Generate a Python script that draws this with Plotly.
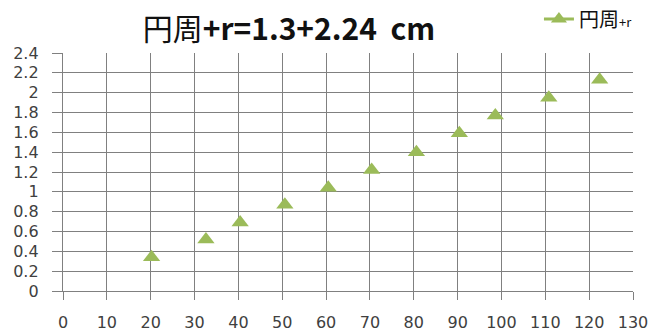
import plotly.graph_objects as go

# Measured points: horizontal value vs. circumference+r (cm)
x_vals = [20.2, 32.6, 40.4, 50.6, 60.5, 70.4, 80.6, 90.4, 98.6, 110.8, 122.4]
y_vals = [0.34, 0.52, 0.69, 0.87, 1.04, 1.22, 1.40, 1.59, 1.77, 1.95, 2.13]

x_ticks = list(range(0, 131, 10))
y_ticks = [0, 0.2, 0.4, 0.6, 0.8, 1, 1.2, 1.4, 1.6, 1.8, 2, 2.2, 2.4]
y_tick_text = ["0", "0.2", "0.4", "0.6", "0.8", "1", "1.2", "1.4", "1.6", "1.8", "2", "2.2", "2.4"]

series_name = "円周<span style='font-size:13px'>+r</span>"
title_text = "円周<b>+r=1.3+2.24&nbsp;&nbsp;cm</b>"

GREEN = "#9BBB59"
GRID = "#808080"
LABEL = "#404040"
TICK_FONT = "DejaVu Sans"

fig = go.Figure()

# data markers
fig.add_trace(go.Scatter(
    x=x_vals, y=y_vals, mode="markers",
    marker=dict(symbol="triangle-up", size=15, color=GREEN),
    showlegend=False, hoverinfo="x+y",
))
# legend entry (line + marker sample)
fig.add_trace(go.Scatter(
    x=[None], y=[None], mode="lines+markers", name=series_name,
    line=dict(color=GREEN, width=3),
    marker=dict(symbol="triangle-up", size=14, color=GREEN),
))

fig.update_layout(
    width=648, height=336,
    margin=dict(l=63, r=15, t=53, b=45, autoexpand=False),
    paper_bgcolor="white", plot_bgcolor="white",
    font=dict(family=TICK_FONT, color=LABEL),
    title=dict(
        text=title_text, xref="container", yref="container",
        x=0.446, y=0.912, xanchor="center", yanchor="middle",
        font=dict(family="Noto Sans CJK JP", size=30, color="#111111"),
    ),
    legend=dict(
        x=0.835, y=1.225, xanchor="left", yanchor="top",
        font=dict(family="Noto Sans CJK JP", size=20, color="#111111"),
        bgcolor="rgba(0,0,0,0)", itemwidth=30,
    ),
    xaxis=dict(
        range=[0, 130], tickvals=x_ticks, ticktext=[str(v) for v in x_ticks],
        showgrid=True, gridcolor=GRID, gridwidth=1.4,
        showline=True, linecolor=GRID, linewidth=1.4,
        ticks="outside", ticklen=8, tickcolor=GRID, tickwidth=1.4,
        ticklabelstandoff=9, automargin=False, ticklabeloverflow="allow",
        tickfont=dict(family=TICK_FONT, size=16, color=LABEL),
        zeroline=False, fixedrange=True,
    ),
    yaxis=dict(
        range=[0, 2.4], tickvals=y_ticks, ticktext=y_tick_text,
        showgrid=True, gridcolor=GRID, gridwidth=1.4,
        showline=True, linecolor=GRID, linewidth=1.4,
        ticks="outside", ticklen=10, tickcolor=GRID, tickwidth=1.4,
        ticklabelstandoff=10, automargin=False, ticklabeloverflow="allow",
        tickfont=dict(family=TICK_FONT, size=16, color=LABEL),
        zeroline=False, fixedrange=True,
    ),
)

fig.write_html("out.html")
